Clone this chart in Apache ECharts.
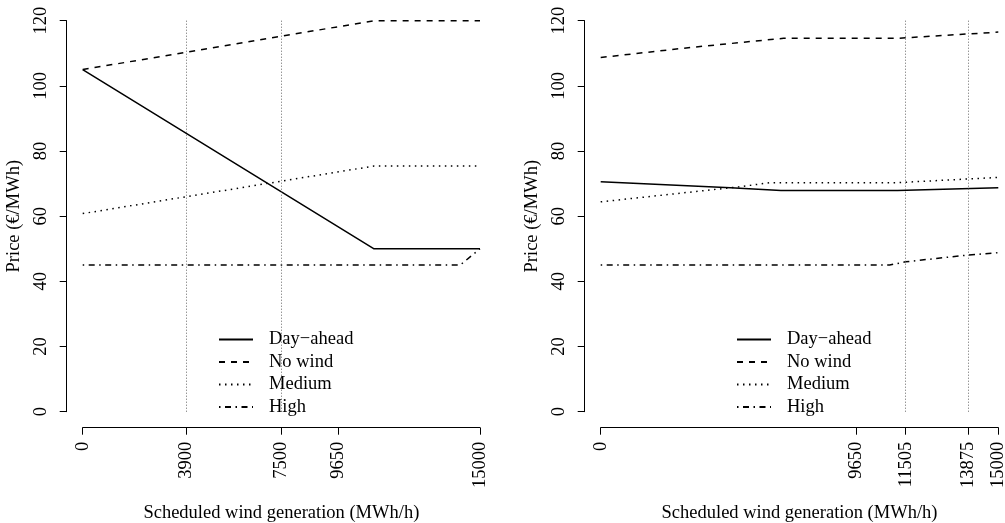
<!DOCTYPE html>
<html>
<head>
<meta charset="utf-8">
<title>Scheduled wind generation vs price</title>
<script src="https://cdn.jsdelivr.net/npm/echarts@6/dist/echarts.min.js"></script>
<style>
  html, body { margin: 0; padding: 0; background: #fff; }
  #chart { width: 1005px; height: 523px; }
</style>
</head>
<body>
<div id="chart"></div>
<script>
// tick labels on the x axes and reference (dotted) lines
const leftTicks = [0, 3900, 7500, 9650, 15000]
const rightTicks = [0, 9650, 11505, 13875, 15000]
const leftRefLines = [3900, 7500]
const rightRefLines = [11505, 13875]
const yTicks = [0, 20, 40, 60, 80, 100, 120]

const seriesNames = ["Day\u2212ahead", "No wind", "Medium", "High"]

// left panel
const leftDayAheadX = [0, 11000, 15000]
const leftDayAhead = [105, 50, 50]
const leftNoWindX = [0, 11000, 15000]
const leftNoWind = [105, 120, 120]
const leftMediumX = [0, 11000, 15000]
const leftMedium = [60.8, 75.4, 75.4]
const leftHighX = [0, 14250, 15000]
const leftHigh = [45, 45, 50]

// right panel
const rightDayAheadX = [0, 4900, 6800, 11200, 15000]
const rightDayAhead = [70.6, 68.7, 67.9, 67.9, 68.7]
const rightNoWindX = [0, 3400, 6900, 11200, 15000]
const rightNoWind = [108.7, 111.8, 114.6, 114.6, 116.5]
const rightMediumX = [0, 5200, 6400, 11200, 15000]
const rightMedium = [64.4, 69.0, 70.3, 70.3, 71.9]
const rightHighX = [0, 10900, 11500, 13875, 15000]
const rightHigh = [45, 45, 46, 48.1, 48.8]

const FONT = "Liberation Serif"
const FS = 18.5

// R-like line types
const dashTypes = ["solid", [6, 6], [1.5, 4.5], [1.5, 4.5, 6, 4.5]]

function pairs(xs, ys) {
  return xs.map((x, i) => [x, ys[i]])
}

function xAxisFor(gridIndex, ticks) {
  return {
    type: "value",
    gridIndex,
    min: 0,
    max: 15000,
    offset: 16,
    name: "Scheduled wind generation (MWh/h)",
    nameLocation: "middle",
    nameGap: 75.5,
    nameTextStyle: { fontFamily: FONT, fontSize: FS, color: "#000" },
    axisLine: { show: true, onZero: false, lineStyle: { color: "#000", width: 1 } },
    axisTick: { show: true, length: 7, customValues: ticks, lineStyle: { color: "#000" } },
    axisLabel: {
      customValues: ticks,
      formatter: v => String(v),
      rotate: 90,
      margin: 14,
      fontFamily: FONT,
      fontSize: FS,
      color: "#000"
    },
    splitLine: { show: false }
  }
}

function yAxisFor(gridIndex) {
  return {
    type: "value",
    gridIndex,
    min: 0,
    max: 120,
    interval: 20,
    offset: 16,
    name: "Price (\u20ac/MWh)",
    nameLocation: "middle",
    nameRotate: 90,
    nameGap: 43,
    nameTextStyle: { fontFamily: FONT, fontSize: FS, color: "#000" },
    axisLine: { show: true, onZero: false, lineStyle: { color: "#000", width: 1 } },
    axisTick: { show: true, length: 7, lineStyle: { color: "#000" } },
    axisLabel: {
      customValues: yTicks,
      formatter: v => String(v),
      rotate: 90,
      margin: 16,
      fontFamily: FONT,
      fontSize: FS,
      color: "#000"
    },
    splitLine: { show: false }
  }
}

function lineSeries(name, idx, gridIndex, data, refLines) {
  const s = {
    name,
    type: "line",
    xAxisIndex: gridIndex,
    yAxisIndex: gridIndex,
    data,
    symbol: "none",
    silent: true,
    animation: false,
    lineStyle: { color: "#000", width: 1.5, type: dashTypes[idx] },
    itemStyle: { color: "#000" }
  }
  if (refLines) {
    s.markLine = {
      silent: true,
      symbol: "none",
      label: { show: false },
      lineStyle: { color: "#666", width: 1, type: [1, 2] },
      data: refLines.map(v => ({ xAxis: v }))
    }
  }
  return s
}

function legendAt(left) {
  return {
    left,
    top: 330,
    padding: 0,
    orient: "vertical",
    itemWidth: 34,
    itemHeight: 14,
    itemGap: 3.5,
    selectedMode: false,
    data: seriesNames,
    itemStyle: { opacity: 0 },
    textStyle: {
      fontFamily: FONT,
      fontSize: FS,
      color: "#000",
      padding: [0, 0, 0, 11]
    }
  }
}

const chart = echarts.init(document.getElementById("chart"), null, { renderer: "canvas" })

// grids are pinned to the data range; the axes sit offset outside them like in R
chart.setOption({
  animation: false,
  backgroundColor: "#fff",
  grid: [
    { left: 82.7, top: 20.7, width: 397.3, height: 391, outerBoundsMode: "none" },
    { left: 600.7, top: 20.7, width: 397.6, height: 391, outerBoundsMode: "none" }
  ],
  xAxis: [xAxisFor(0, leftTicks), xAxisFor(1, rightTicks)],
  yAxis: [yAxisFor(0), yAxisFor(1)],
  legend: [legendAt(218), legendAt(736)],
  series: [
    lineSeries(seriesNames[0], 0, 0, pairs(leftDayAheadX, leftDayAhead), leftRefLines),
    lineSeries(seriesNames[1], 1, 0, pairs(leftNoWindX, leftNoWind)),
    lineSeries(seriesNames[2], 2, 0, pairs(leftMediumX, leftMedium)),
    lineSeries(seriesNames[3], 3, 0, pairs(leftHighX, leftHigh)),
    lineSeries(seriesNames[0], 0, 1, pairs(rightDayAheadX, rightDayAhead), rightRefLines),
    lineSeries(seriesNames[1], 1, 1, pairs(rightNoWindX, rightNoWind)),
    lineSeries(seriesNames[2], 2, 1, pairs(rightMediumX, rightMedium)),
    lineSeries(seriesNames[3], 3, 1, pairs(rightHighX, rightHigh))
  ]
})
</script>
</body>
</html>
